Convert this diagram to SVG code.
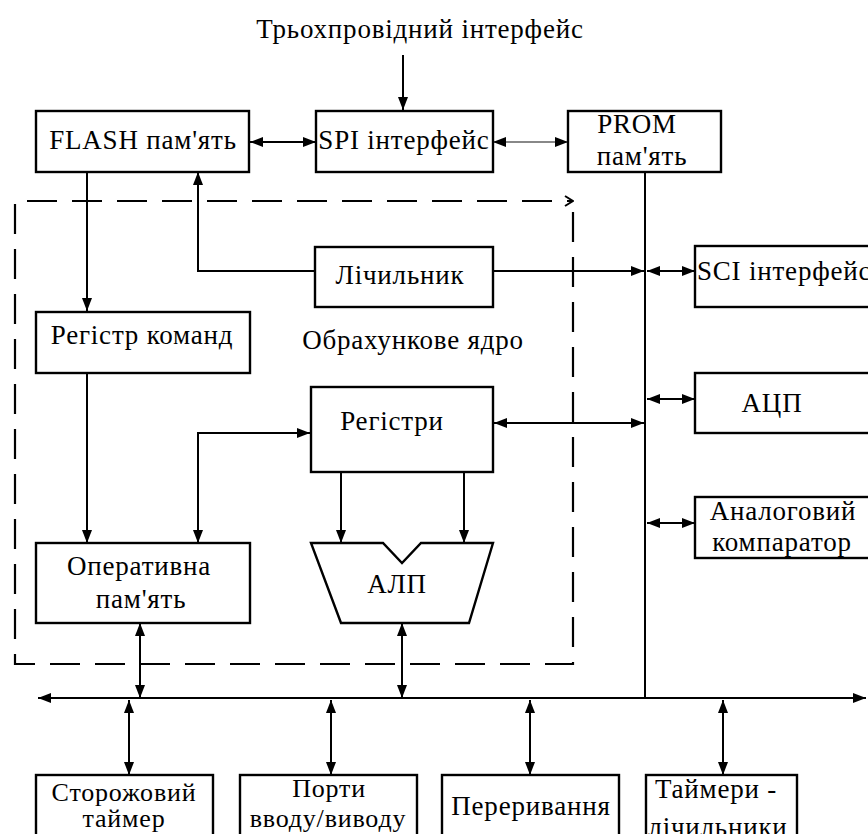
<svg xmlns="http://www.w3.org/2000/svg" width="868" height="834" viewBox="0 0 868 834">
<style>
.box{fill:#fff;stroke:#000;stroke-width:2.4}
.t{font-family:"Liberation Serif","Times New Roman",serif;font-size:27px;letter-spacing:0.8px;fill:#000;text-anchor:middle}
.s{font-size:26px}
.c{fill:none;stroke:#000;stroke-width:2}
.a1{marker-end:url(#ah)}
.a2{marker-start:url(#ah);marker-end:url(#ah)}
</style>
<defs>
<marker id="ah" viewBox="0 0 13 10" refX="13" refY="5" markerWidth="13" markerHeight="10" markerUnits="userSpaceOnUse" orient="auto-start-reverse"><path d="M0,0 L13,5 L0,10 z" fill="#000"/></marker>
<marker id="open" viewBox="0 0 10 12" refX="9" refY="6" markerWidth="10" markerHeight="12" markerUnits="userSpaceOnUse" orient="auto"><path d="M1,1 L9,6 L1,11" fill="none" stroke="#000" stroke-width="2"/></marker>
</defs>
<rect width="868" height="834" fill="#fff"/>

<g id="core-boundary">
<path d="M573,212 V664 H15 V201 H573" fill="none" stroke="#000" stroke-width="2.2" stroke-dasharray="30 15" marker-end="url(#open)"/>
<text class="t" x="413" y="349">Обрахункове ядро</text>
</g>

<g id="title"><text class="t" x="420" y="38">Трьохпровідний інтерфейс</text></g>

<g id="connectors">
<path class="c a1" d="M403,55 V110"/>
<path class="c a2" d="M250,142 H316"/>
<path class="c a2" d="M493,142 H568" style="stroke:#888"/>
<path class="c" d="M645,172 V698"/>
<path class="c a1" d="M87,172 V311"/>
<path class="c a1" d="M315,271 H198 V172"/>
<path class="c a1" d="M493,271 H644"/>
<path class="c a2" d="M647,271 H695"/>
<path class="c a1" d="M87,373 V543"/>
<path class="c a2" d="M310,433 H198 V543"/>
<path class="c a2" d="M494,423 H644"/>
<path class="c a2" d="M647,399 H695"/>
<path class="c a2" d="M647,523 H695"/>
<path class="c a1" d="M341,472 V543"/>
<path class="c a1" d="M464,472 V543"/>
<path class="c a2" d="M140,623 V698"/>
<path class="c a2" d="M402,623 V698"/>
<path class="c a2" d="M38,698 H866"/>
<path class="c a2" d="M129,700 V775"/>
<path class="c a2" d="M331,700 V775"/>
<path class="c a2" d="M530,700 V775"/>
<path class="c a2" d="M723,700 V775"/>
</g>

<g id="flash"><rect class="box" x="36" y="111" width="213" height="61"/><text class="t" x="143" y="149">FLASH пам'ять</text></g>
<g id="spi"><rect class="box" x="316" y="111" width="177" height="61"/><text class="t" x="404" y="149">SPI інтерфейс</text></g>
<g id="prom"><rect class="box" x="568" y="111" width="153" height="61"/><text class="t" x="637" y="133">PROM</text><text class="t" x="642" y="165">пам'ять</text></g>
<g id="counter"><rect class="box" x="315" y="247" width="178" height="60"/><text class="t" x="400" y="284">Лічильник</text></g>
<g id="ir"><rect class="box" x="36" y="312" width="214" height="61"/><text class="t" x="142" y="344">Регістр команд</text></g>
<g id="regs"><rect class="box" x="311" y="387" width="182" height="85"/><text class="t" x="392" y="430">Регістри</text></g>
<g id="ram"><rect class="box" x="36" y="543" width="214" height="80"/><text class="t" x="139" y="575">Оперативна</text><text class="t" x="141" y="608">пам'ять</text></g>
<g id="alu"><polygon class="box" points="311,543 383,543 402,563 421,543 493,543 469,623 341,623"/><text class="t" x="397" y="593">АЛП</text></g>
<g id="sci"><rect class="box" x="695" y="246" width="190" height="61"/><text class="t" x="697" y="280" style="text-anchor:start">SCI інтерфейс</text></g>
<g id="adc"><rect class="box" x="695" y="373" width="190" height="60"/><text class="t" x="772" y="412">АЦП</text></g>
<g id="comp"><rect class="box" x="695" y="497" width="190" height="61"/><text class="t" x="783" y="520">Аналоговий</text><text class="t" x="782" y="551">компаратор</text></g>
<g id="wdt"><rect class="box" x="36" y="775" width="177" height="70"/><text class="t s" x="124" y="801">Сторожовий</text><text class="t s" x="124" y="827">таймер</text></g>
<g id="ports"><rect class="box" x="240" y="775" width="177" height="70"/><text class="t s" x="329" y="797">Порти</text><text class="t s" x="328" y="827">вводу/виводу</text></g>
<g id="irq"><rect class="box" x="442" y="775" width="177" height="70"/><text class="t" x="531" y="815">Переривання</text></g>
<g id="timers"><rect class="box" x="646" y="775" width="151" height="70"/><text class="t" x="716" y="798">Таймери -</text><text class="t" x="718" y="836">лічильники</text></g>
</svg>
